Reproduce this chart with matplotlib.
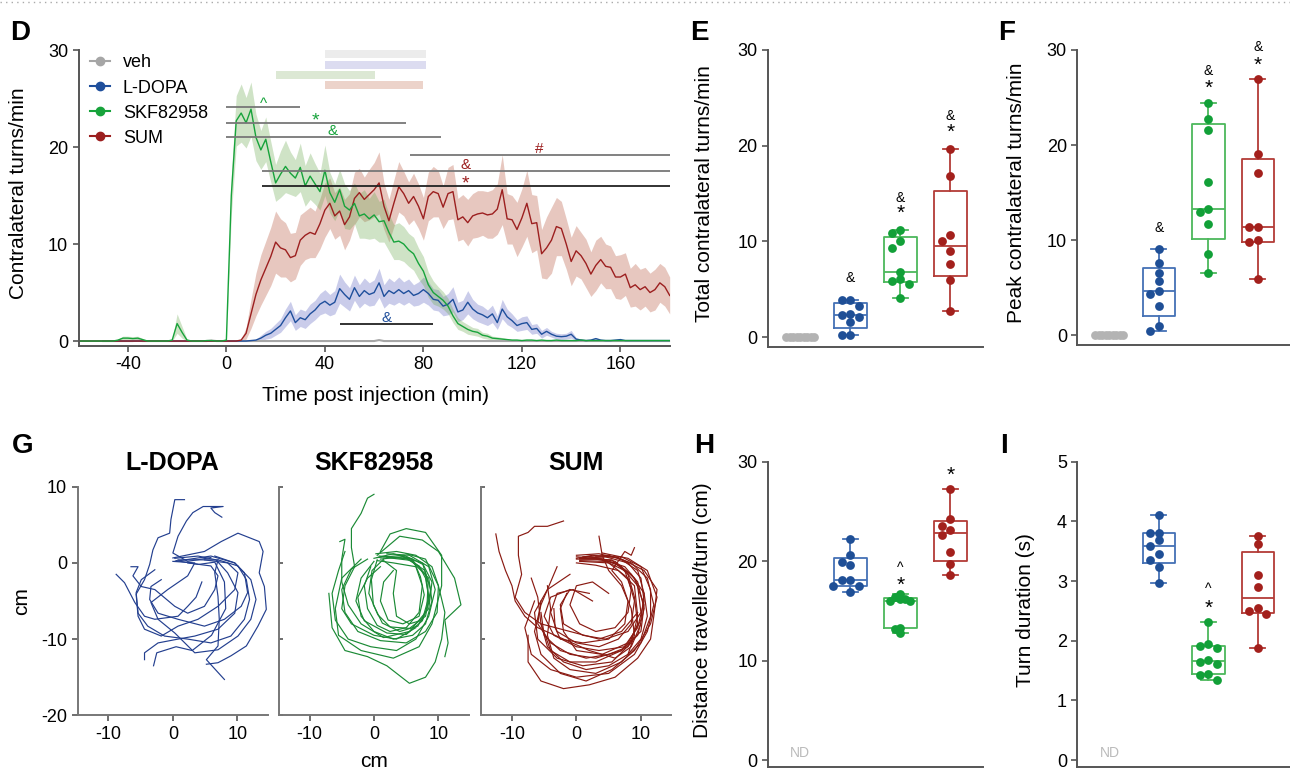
import numpy as np
import matplotlib
matplotlib.use('Agg')
import matplotlib.pyplot as plt
from matplotlib.lines import Line2D

plt.rcParams['font.family'] = ['Liberation Sans', 'DejaVu Sans']
plt.rcParams['axes.unicode_minus'] = False

nan = np.nan

# ---------------- panel D: time course (2-min bins, -60 .. 180 min) ----------------
time_min = np.arange(-60, 182, 2)

veh_turns = [nan, nan, nan, nan, nan, 0, 0, 0, 0, 0,
             0, 0, 0.05, 0, 0, 0, 0, 0, 0, 0,
             0, 0, 0, 0, 0, 0, 0, 0.05, 0, 0,
             0, 0, 0, 0, 0, 0, 0, 0, 0, 0,
             0, 0, 0, 0, 0, 0, 0, 0, 0, 0,
             0, 0, 0, 0, 0, 0, 0, 0, 0, 0,
             0, 0.1, 0, 0, 0, 0, 0, 0, 0, 0,
             0, 0, 0, 0, 0, 0, 0, 0, 0, 0,
             0, 0, 0, 0, 0, 0, 0, 0, 0, 0,
             0, 0, 0, 0, 0, 0, 0, 0, 0, 0,
             0, 0, 0, 0, 0, 0, 0, 0, 0, 0,
             0, 0, 0, 0, 0, 0, 0, 0, 0, 0,
             0]

ldopa_turns = [0] * 30 + [
    0, 0, 0, 0, 0, 0.05, 0.1, 0.3, 0.6, 0.8,
    1.2, 1.6, 2.4, 3.1, 1.9, 2.4, 2.2, 2.8, 3.2, 3.8,
    4.1, 3.7, 4.0, 5.4, 4.8, 4.3, 5.5, 4.6, 5.2, 4.8,
    5.0, 6.0, 4.6, 5.2, 4.9, 5.3, 4.9, 5.2, 4.7, 4.9,
    5.3, 4.9, 4.3, 4.2, 3.6, 3.8, 4.3, 3.0, 3.2, 4.0,
    3.3, 2.9, 2.7, 2.4, 2.8, 1.9, 3.3, 2.5, 2.1, 1.6,
    1.8, 1.9, 1.2, 1.3, 0.7, 1.0, 0.7, 0.5, 0.45, 0.5,
    0.7, 0.2, 0.1, 0.05, 0.1, 0.25, 0.1, 0.05, 0.05, 0.1,
    0.15, 0.05, 0.05, 0.05, 0.05, 0.05, 0.05, 0.05, 0.05, 0.05,
    0.05]
ldopa_sem = [0] * 30 + [
    0, 0, 0, 0, 0, 0.05, 0.1, 0.3, 0.4, 0.5,
    0.6, 0.7, 0.9, 1.0, 0.8, 0.9, 0.9, 1.0, 1.0, 1.1,
    1.2, 1.1, 1.2, 1.5, 1.3, 1.2, 1.3, 1.2, 1.3, 1.2,
    1.3, 1.5, 1.2, 1.3, 1.2, 1.3, 1.2, 1.2, 1.1, 1.2,
    1.3, 1.2, 1.1, 1.1, 1.0, 1.1, 1.3, 1.0, 1.0, 1.2,
    1.0, 0.9, 0.9, 0.8, 0.9, 0.7, 1.0, 0.8, 0.7, 0.6,
    0.7, 0.7, 0.5, 0.5, 0.4, 0.4, 0.3, 0.3, 0.3, 0.3,
    0.4, 0.15, 0.1, 0.05, 0.05, 0.1, 0.05, 0.05, 0.05, 0.05,
    0.05, 0.05, 0.05, 0.05, 0.05, 0.05, 0.05, 0.05, 0.05, 0.05,
    0.05]

skf_turns = [0, 0, 0, 0, 0, 0, 0, 0, 0.1, 0.3,
             0.3, 0.25, 0.3, 0.15, 0, 0, 0, 0, 0, 0.1,
             1.8, 0.9, 0.1, 0, 0, 0, 0.05, 0.05, 0, 0,
             0.1, 15.0, 22.7, 23.5, 22.5, 23.9, 21.0, 19.7, 20.8, 18.5,
             16.3, 17.2, 18.0, 17.3, 16.8, 17.9, 16.0, 17.0, 16.2, 15.4,
             17.6, 15.3, 14.3, 15.6, 13.9, 13.5, 14.2, 12.9, 13.1, 12.6,
             13.0, 12.3, 12.4, 11.2, 10.2, 10.3, 10.0, 9.4, 9.0, 8.0,
             7.2, 5.8, 5.0, 4.6, 4.2, 3.6, 2.6, 1.8, 1.5, 1.2,
             1.0, 0.9, 0.6, 0.5, 0.3, 0.25, 0.2, 0.15, 0.1, 0.1,
             0.05, 0.1, 0.1, 0.05, 0.1, 0.05, 0.05, 0.1, 0.05, 0.05,
             0.05, 0.05, 0.1, 0.05, 0.05, 0.05, 0.05, 0.05, 0.05, 0.05,
             0.05, 0.05, 0.05, 0.05, 0.05, 0.05, 0.05, 0.05, 0.05, 0.05,
             0.05]
skf_sem = [0, 0, 0, 0, 0, 0, 0, 0, 0.1, 0.2,
           0.2, 0.2, 0.2, 0.1, 0, 0, 0, 0, 0, 0.1,
           1.0, 0.6, 0.1, 0, 0, 0, 0.05, 0.05, 0, 0,
           0.1, 2.0, 2.6, 3.0, 2.6, 2.8, 2.4, 2.0, 2.3, 2.1,
           1.9, 2.4, 2.7, 2.2, 1.9, 2.5, 2.1, 2.4, 2.1, 1.9,
           2.6, 2.1, 1.9, 2.1, 2.3, 2.0, 2.1, 2.3, 2.5, 2.1,
           2.4, 2.1, 2.2, 1.9, 1.8, 1.9, 1.8, 1.7, 1.7, 1.6,
           1.5, 1.3, 1.2, 1.0, 0.9, 0.8, 0.7, 0.6, 0.5, 0.5,
           0.4, 0.4, 0.3, 0.3, 0.2, 0.2, 0.15, 0.1, 0.05, 0.05,
           0.05, 0.05, 0.05, 0.05, 0.05, 0.05, 0.05, 0.05, 0.05, 0.05,
           0.05, 0.05, 0.05, 0.05, 0.05, 0.05, 0.05, 0.05, 0.05, 0.05,
           0.05, 0.05, 0.05, 0.05, 0.05, 0.05, 0.05, 0.05, 0.05, 0.05,
           0.05]

sum_turns = [0] * 30 + [
    0, 0, 0, 0.1, 0.8, 2.8, 4.8, 6.3, 7.5, 8.7,
    10.2, 9.6, 9.4, 8.6, 8.8, 10.4, 10.9, 11.2, 11.0, 12.1,
    13.5, 14.2, 12.9, 13.4, 12.0, 12.8, 14.7, 15.3, 14.6, 15.1,
    15.6, 16.3, 13.9, 12.4, 14.2, 15.9, 15.2, 14.2, 14.9, 13.9,
    12.6, 14.9, 15.4, 15.2, 13.8, 15.2, 15.4, 12.5, 12.8, 12.2,
    12.9, 13.1, 13.2, 13.0, 13.1, 13.6, 15.6, 12.6, 12.5, 11.5,
    12.7, 14.2, 12.1, 12.2, 9.0, 9.6, 10.4, 11.8, 11.6, 10.0,
    8.2, 9.3, 8.8, 8.0, 6.9, 7.8, 8.4, 7.7, 7.6, 6.6,
    6.6, 6.9, 5.5, 5.8, 5.3, 5.6, 5.0, 5.3, 6.0, 5.6,
    4.7]
sum_sem = [0] * 30 + [
    0, 0, 0, 0.1, 0.6, 1.5, 2.2, 2.6, 2.8, 3.0,
    3.2, 3.0, 2.8, 2.5, 2.4, 2.6, 2.5, 2.6, 2.4, 2.6,
    2.8, 2.6, 2.4, 2.5, 2.6, 2.4, 2.7, 2.5, 2.3, 2.6,
    2.8, 3.2, 2.4, 2.2, 2.4, 2.6, 2.3, 2.2, 2.4, 2.3,
    2.2, 2.5, 2.6, 2.4, 2.2, 2.7, 2.8, 2.2, 2.3, 2.4,
    2.3, 2.4, 2.3, 2.4, 2.5, 2.6, 3.6, 2.6, 2.5, 2.8,
    3.0, 3.4, 3.0, 2.8, 2.5, 3.2, 3.4, 3.0, 2.8, 2.6,
    2.5, 2.6, 2.4, 2.5, 2.3, 2.6, 2.4, 2.3, 2.2, 2.2,
    2.3, 2.2, 2.0, 2.2, 2.1, 2.0, 2.0, 2.1, 2.0, 2.0,
    1.9]

group_names = ['veh', 'L-DOPA', 'SKF82958', 'SUM']

# shaded windows above the traces (start, end of window in min; y band)
window_start = [40, 40, 20, 40]
window_end = [81, 81, 60.5, 80]
window_low = [29.2, 28.05, 27.0, 25.95]
window_high = [30.0, 28.85, 27.8, 26.8]

# significance bars: (x0, x1, y, symbol, symbol x, symbol colour, bar colour)
sig_bars = [
    (0, 30, 24.15, '^', 15, '#17a33b', '#777777'),
    (0, 73, 22.5, '*', 36, '#17a33b', '#777777'),
    (0, 87, 21.0, '&', 43, '#17a33b', '#777777'),
    (74.5, 180, 19.2, '#', 127, '#9c1f1f', '#777777'),
    (14.3, 180, 17.5, '&', 97, '#9c1f1f', '#777777'),
    (14.3, 180, 16.0, '*', 97, '#9c1f1f', '#222222'),
    (46, 84, 1.75, '&', 65, '#1f4f9c', '#222222'),
]

# ---------------- panels E, F, H, I: per-animal values ----------------
total_turns = [
    [0, 0, 0, 0, 0, 0, 0, 0, 0],
    [3.9, 3.9, 3.3, 2.4, 2.3, 2.1, 1.6, 0.25, 0.25],
    [11.2, 10.9, 10.05, 9.3, 6.85, 6.05, 5.9, 5.6, 4.1],
    [19.65, 16.8, 10.7, 10.05, 9.0, 7.6, 6.0, 2.75],
]
peak_turns = [
    [0, 0, 0, 0, 0, 0, 0, 0, 0],
    [9.1, 7.6, 6.6, 5.75, 4.7, 4.35, 3.1, 0.95, 0.42],
    [24.4, 22.8, 21.6, 16.1, 13.3, 12.95, 11.7, 8.6, 6.55],
    [26.9, 19.05, 17.1, 11.45, 11.4, 10.05, 9.8, 5.9],
]
dist_per_turn = [
    None,
    [22.2, 20.6, 19.95, 19.6, 18.1, 18.1, 17.5, 17.5, 16.9],
    [16.7, 16.4, 16.2, 16.2, 16.0, 16.0, 13.3, 13.2, 12.75],
    [27.3, 24.2, 23.5, 23.1, 22.6, 20.9, 19.7, 18.6],
]
turn_duration = [
    None,
    [4.11, 3.81, 3.80, 3.68, 3.58, 3.46, 3.35, 3.24, 2.96],
    [2.31, 1.94, 1.91, 1.87, 1.68, 1.65, 1.61, 1.44, 1.42, 1.34],
    [3.75, 3.62, 3.10, 2.90, 2.54, 2.50, 2.45, 1.87],
]

# significance marks above groups: (group index, value, symbol)
marks_E = [(1, 6.3, '&'), (2, 14.7, '&'), (2, 13.5, '*'), (3, 23.2, '&'), (3, 22.0, '*')]
marks_F = [(1, 11.4, '&'), (2, 27.9, '&'), (2, 26.6, '*'), (3, 30.4, '&'), (3, 29.0, '*')]
marks_H = [(2, 19.7, '^'), (2, 18.2, '*'), (3, 29.2, '*')]
marks_I = [(2, 2.93, '^'), (2, 2.64, '*')]

# ---------------- panel G: example turn trajectories (cm) ----------------
ldopa_paths = [
    [(0, 0.65), (4.9, 1.5), (7.5, 2.8), (10.1, 3.9), (13.4, 2.8), (14.0, 1.5), (13.4, -1.3),
     (14.2, -3.1), (14.5, -6.1), (13.2, -8.3), (11.4, -10.9), (9.0, -12.2), (7.0, -13.1), (5.2, -13.3)],
    [(0.8, 0.4), (7.0, 0.4), (10.1, -0.4), (11.4, -2.2), (11.9, -4.8), (11.1, -7.4), (9.0, -9.6),
     (5.9, -10.5), (2.3, -10.0), (-1.3, -9.6), (-3.9, -8.3), (-5.4, -6.6), (-5.7, -3.9), (-4.9, -2.2), (-2.8, -0.9)],
    [(0.3, 0.2), (5.9, 0.9), (9.6, 0.0), (11.1, -1.3), (11.6, -3.9), (10.6, -5.7), (8.0, -7.4),
     (4.9, -8.3), (0.8, -7.4), (-2.3, -6.6), (-3.6, -4.8), (-3.4, -3.1), (-1.8, -2.2)],
    [(0.3, 0.6), (3.9, 0.9), (6.7, 0.4), (8.5, -1.3), (10.1, -3.9), (9.6, -6.6), (7.0, -8.7),
     (3.4, -9.6), (0.8, -10.0), (-2.3, -10.5), (-4.4, -11.8), (-4.4, -12.7)],
    [(7.0, 0.4), (6.5, -1.3), (7.0, -4.4), (7.2, -7.4), (7.0, -10.9), (5.2, -12.7), (8.0, -15.3)],
    [(-8.8, -1.5), (-7.5, -2.6), (-5.9, -5.2), (-4.4, -7.0), (-2.8, -7.4), (0.8, -7.0), (2.3, -5.7),
     (3.6, -4.5), (4.5, -2.5)],
    [(1.8, 8.3), (0.3, 8.3), (-0.3, 5.7), (-0.5, 3.9), (-2.3, 3.3), (-3.1, 1.7), (-3.6, -0.2),
     (-4.4, -2.2), (-5.7, -4.1), (-5.4, -7.0), (-4.4, -8.7), (-1.8, -9.6), (0.8, -8.3), (3.9, -7.4),
     (7.0, -5.7), (9.6, -3.5), (10.1, -1.3), (8.5, 0.0), (4.9, 0.4)],
    [(7.6, 6.0), (6.5, 6.6), (5.9, 7.2), (7.8, 7.4), (4.7, 7.4), (3.1, 6.6), (2.1, 5.5), (0.8, 3.5),
     (0.0, 1.3), (2.3, 0.2), (5.9, 0.7)],
    [(0.0, 0.2), (3.4, 0.0), (2.3, -1.7), (-0.8, -3.5), (-3.4, -5.2), (-2.3, -7.4), (0.3, -9.2),
     (3.4, -11.8), (7.0, -11.4), (10.1, -9.6), (12.1, -7.4), (12.9, -4.8), (12.1, -2.2), (9.6, 0.0), (6.5, 0.9)],
    [(-6.5, -0.5), (-5.4, -0.5), (-6.2, -1.7), (-4.9, -3.1), (-2.8, -3.5), (0.3, -5.7), (2.3, -6.6),
     (4.9, -5.7), (6.5, -3.5), (7.0, -1.7), (5.9, -0.4), (2.3, 0.0)],
    [(0.5, 0.3), (4.0, -0.2), (6.5, 0.1), (8.0, -2.5), (8.2, -6.0), (6.0, -9.5), (3.0, -11.5),
     (0.5, -11.0), (-2.5, -11.8), (-3.0, -13.5)],
]
skf_paths = [
    [(0.5, 0.7), (4.7, 1.0), (7.6, -0.2), (8.4, -2.6), (8.2, -6.1), (6.8, -8.3), (4.0, -9.0),
     (1.3, -7.9), (-0.1, -5.5), (-0.4, -2.2), (0.5, 0.4)],
    [(0.8, 0.9), (5.2, 0.6), (7.9, -1.0), (8.8, -3.5), (8.0, -7.0), (5.5, -8.6), (2.5, -8.4),
     (0.6, -6.8), (-0.8, -4.0), (-0.3, -1.0), (1.5, 0.5)],
    [(1.0, 0.5), (4.5, 0.8), (7.0, -0.4), (8.0, -2.0), (8.6, -5.0), (7.5, -7.6), (5.0, -9.4),
     (2.0, -9.2), (-1.5, -7.6), (-2.8, -5.0), (-2.0, -2.0), (0.0, 0.2)],
    [(0.3, 1.2), (3.5, 1.5), (6.5, 1.0), (9.0, -0.5), (10.0, -3.0), (9.8, -6.5), (8.0, -9.0),
     (5.0, -10.5), (1.0, -10.2), (-2.5, -9.0), (-4.5, -6.5), (-5.0, -3.5), (-3.5, -0.8), (-1.0, 0.5)],
    [(0.5, 1.0), (4.0, 3.5), (7.5, 3.0), (10.0, 1.5), (12.5, -2.0), (13.5, -5.5), (11.0, -7.5),
     (11.5, -10.5), (11.0, -12.3)],
    [(-7.0, -4.0), (-6.5, -8.5), (-4.5, -11.5), (-1.0, -12.3), (2.0, -13.5), (5.5, -15.8), (8.0, -15.0),
     (9.5, -13.0), (10.5, -10.0), (11.0, -6.5), (10.0, -3.0), (8.0, 0.5), (5.0, 1.2)],
    [(0.0, 9.0), (-1.0, 8.5), (-2.0, 6.5), (-3.5, 4.5), (-3.5, 2.0), (-3.0, -0.5), (-4.5, -3.0),
     (-5.0, -6.0), (-3.5, -8.0), (0.0, -9.5), (3.5, -10.0), (6.5, -8.5)],
    [(-5.3, 2.8), (-4.5, 3.1), (-5.0, 0.5), (-5.0, -2.5), (-4.0, -5.5), (-2.0, -8.0), (1.5, -9.8),
     (5.5, -9.0), (8.5, -6.0), (9.0, -2.5), (7.5, 0.0), (4.0, 1.0)],
    [(2.0, 0.7), (6.0, 0.3), (8.0, -1.5), (8.5, -4.5), (7.5, -7.5), (5.5, -8.0), (3.5, -7.0),
     (3.0, -4.0), (3.5, -1.0), (1.5, 0.3)],
    [(1.0, 1.5), (2.5, 3.8), (5.0, 4.5), (8.0, 4.0), (10.5, 1.0), (10.5, -3.0), (9.0, -8.0),
     (7.0, -11.0), (3.0, -12.5), (-2.0, -11.5), (-5.5, -9.5), (-6.0, -6.0), (-5.0, -2.0), (-2.0, 0.5)],
    [(0.5, 0.3), (3.0, 0.0), (6.5, -0.5), (7.5, -3.0), (7.0, -6.5), (5.0, -8.5), (2.5, -9.0),
     (0.5, -8.2), (-1.0, -6.0), (-1.5, -3.0), (-0.5, -0.5)],
    [(1.5, 0.8), (5.5, 0.5), (8.5, -2.0), (9.0, -5.0), (8.0, -8.0), (6.0, -9.5), (3.0, -10.0),
     (0.0, -9.0), (-2.0, -7.0), (-2.5, -4.5), (-1.0, -2.0), (1.0, -0.5)],
    [(0.0, 0.6), (3.0, 1.2), (6.0, 0.5), (7.2, -1.8), (7.8, -4.2), (7.0, -7.0), (4.5, -8.0),
     (2.2, -7.5), (1.0, -5.0), (1.5, -2.5), (3.0, -1.0)],
    [(-4.5, 1.5), (-5.5, -1.0), (-6.5, -4.0), (-6.0, -7.5), (-4.0, -10.0), (-0.5, -11.0), (3.5, -11.5),
     (6.5, -10.0), (8.5, -7.0), (9.5, -3.5), (8.5, -0.5), (5.5, 1.0), (2.0, 1.2)],
]
sum_paths = [
    [(0.0, 0.5), (3.0, 0.5), (6.0, 0.0), (8.5, -1.5), (10.5, -4.0), (11.0, -7.0), (10.0, -10.0),
     (8.0, -12.0), (5.0, -13.5), (1.5, -14.0), (-2.0, -13.0), (-4.5, -11.0), (-5.5, -8.0)],
    [(0.0, 0.8), (4.0, 0.5), (7.5, -0.5), (9.5, -2.5), (10.5, -6.0), (9.5, -9.5), (7.0, -11.5),
     (3.0, -12.5), (-1.0, -12.0), (-4.0, -10.5), (-6.0, -8.0), (-5.5, -5.0)],
    [(0.5, 0.2), (5.0, 0.0), (8.0, -2.0), (9.0, -5.0), (8.5, -8.0), (6.5, -10.0), (3.5, -11.0),
     (0.0, -10.5), (-3.0, -9.0), (-4.0, -6.5), (-3.0, -4.0), (-0.5, -3.5), (2.5, -5.0)],
    [(0.0, 1.0), (3.5, 1.2), (7.0, 0.5), (10.5, -1.0), (12.5, -3.5), (12.0, -7.0), (11.5, -10.0),
     (9.5, -12.5), (6.0, -15.0), (2.0, -16.0), (-2.0, -16.5), (-5.5, -15.5), (-7.5, -13.0), (-7.5, -9.5)],
    [(-12.5, 3.8), (-12.0, 1.5), (-11.0, -1.0), (-10.0, -3.0), (-9.5, -5.0), (-8.0, -7.0), (-6.0, -8.5),
     (-2.0, -10.0), (2.0, -11.5), (6.0, -12.5), (8.5, -11.0), (10.0, -8.0)],
    [(-2.0, 5.5), (-4.5, 4.8), (-6.5, 4.8), (-7.5, 4.0), (-9.0, 3.5), (-9.0, 1.0), (-8.5, -1.5),
     (-9.5, -4.5), (-8.0, -6.5), (-5.5, -8.0), (-1.0, -9.0), (3.5, -10.0), (7.0, -9.0), (9.5, -6.5)],
    [(0.5, 0.3), (4.5, 0.2), (7.5, -1.0), (8.5, -3.5), (8.0, -6.5), (6.0, -8.5), (3.0, -9.0),
     (0.5, -8.0), (-1.0, -5.5), (0.0, -3.0), (2.5, -2.5), (5.0, -4.0)],
    [(0.0, 0.0), (3.0, -0.3), (6.5, -1.0), (9.0, -3.0), (9.5, -7.0), (8.5, -10.5), (5.5, -13.0),
     (1.0, -13.5), (-3.0, -12.5), (-6.0, -10.0), (-6.5, -6.5), (-4.5, -3.5), (-1.0, -1.5)],
    [(1.0, 0.8), (5.0, 1.0), (8.5, 0.0), (11.0, -2.0), (12.0, -5.5), (11.0, -9.0), (9.0, -12.0),
     (5.0, -14.5), (0.0, -15.0), (-4.0, -14.0), (-7.0, -12.0), (-8.0, -8.5), (-6.5, -5.0)],
    [(0.5, 0.5), (4.0, 0.5), (7.0, -0.5), (9.5, -3.0), (10.0, -6.5), (8.0, -9.0), (4.5, -10.0),
     (1.0, -9.5), (-2.0, -8.0), (-2.5, -5.5), (-1.0, -3.5)],
    [(3.5, 3.5), (4.0, 1.0), (5.0, -1.0), (7.0, -3.0), (8.5, -6.0), (9.0, -9.5), (8.0, -12.0)],
    [(-4.5, -3.0), (-4.0, -6.0), (-4.5, -9.5), (-3.5, -12.5), (-1.0, -14.0), (3.0, -14.5), (7.0, -13.0),
     (10.0, -10.5), (11.5, -7.0), (11.5, -3.5), (10.0, -0.5), (7.0, 0.8), (3.0, 0.8)],
    [(0.5, 0.6), (5.5, 0.4), (8.0, -1.5), (9.0, -4.5), (9.5, -8.0), (8.0, -11.0), (5.0, -12.0),
     (1.5, -12.5), (-2.5, -11.5), (-5.0, -9.5), (-5.5, -6.5)],
    [(-7.0, -2.0), (-6.0, -4.5), (-5.5, -8.0), (-4.0, -11.5), (-1.0, -13.0), (3.0, -13.0), (7.0, -11.5),
     (9.5, -8.5), (10.5, -5.0), (10.0, -2.0), (8.0, 0.0), (4.5, 0.8), (1.0, 0.6)],
    [(2.0, 0.8), (6.0, 0.2), (9.0, -2.0), (10.5, -5.5), (10.0, -9.0), (7.5, -11.0), (3.5, -11.5),
     (0.0, -11.0), (-3.5, -9.5), (-5.0, -7.0), (-4.0, -4.5), (-1.0, -3.5), (2.0, -4.0)],
    [(-1.5, -4.0), (-2.5, -6.0), (-2.0, -9.0), (0.0, -11.5), (4.0, -12.0), (8.0, -10.5), (10.0, -7.5),
     (10.5, -4.0), (9.5, -1.0), (6.5, 0.7), (2.5, 1.0), (0.0, 0.6)],
    [(-3.0, -0.5), (-4.0, -2.5), (-5.5, -5.5), (-6.5, -9.0), (-5.5, -12.0), (-2.5, -14.5), (1.5, -15.5),
     (5.5, -14.0), (9.0, -11.5), (11.5, -8.0), (12.5, -4.5), (11.0, -1.0), (8.0, 0.6), (4.0, 1.3)],
    [(-3.5, -6.0), (-3.3, -8.5), (-2.5, -10.0), (1.0, -10.5), (5.0, -10.0), (7.5, -8.0), (8.0, -5.0),
     (7.0, -2.5), (5.5, -1.0), (7.5, 1.5), (8.5, 1.0), (9.0, 2.0)],
]

for arr in (veh_turns, ldopa_turns, ldopa_sem, skf_turns, skf_sem, sum_turns, sum_sem):
    assert len(arr) == len(time_min), len(arr)

# ---------------- styling ----------------
line_colors = ['#a6a6a6', '#1f4f9c', '#17a33b', '#9c1f1f']
band_colors = [None, '#5a62c0', '#6aa84f', '#b5533a']
dot_colors = ['#b3b3b3', '#1f4f96', '#12a038', '#a3201c']
box_colors = ['#b3b3b3', '#4471b5', '#4cb85c', '#b33c37']
path_colors = ['#233f8f', '#1b8a35', '#8a1a12']
window_colors = ['#ececec', '#dcdcf0', '#dce8d4', '#ecd3ca']
spine_color = '#555555'

W, H = 1290, 770
fig = plt.figure(figsize=(12.9, 7.7), dpi=100)


def add_axes(l, t, r, b):
    return fig.add_axes([l / W, 1 - b / H, (r - l) / W, (b - t) / H])


def style(ax):
    for s in ['top', 'right']:
        ax.spines[s].set_visible(False)
    for s in ['left', 'bottom']:
        ax.spines[s].set_color(spine_color)
        ax.spines[s].set_linewidth(1.4)
    ax.tick_params(colors=spine_color, labelcolor='black', labelsize=13, length=4, width=1.2)


def mark(ax, x, y, s, color, size):
    # glyphs like * and ^ sit high in the text box, shift them down a bit
    drop = {'*': 0.28, '^': 0.3}.get(s, 0.08) * size
    ax.annotate(s, (x, y), xytext=(0, -drop), textcoords='offset points', ha='center',
                va='center', color=color, fontsize=size, annotation_clip=False)


def swarm(ax, vals, gap_px, dia_px):
    pos = ax.get_position()
    x0, x1 = ax.get_xlim()
    y0, y1 = ax.get_ylim()
    xs = pos.width * W / (x1 - x0)
    ys = pos.height * H / (y1 - y0)
    placed, out = [], []
    for v in vals:
        y = v * ys
        for k in [0, -1, 1, -2, 2, -3, 3, -4, 4, -5, 5]:
            xo = k * gap_px
            if all(np.hypot(xo - px, y - py) >= dia_px * 0.95 for px, py in placed):
                break
        placed.append((xo, y))
        out.append(xo / xs)
    return np.array(out)


def box_panel(ax, groups, marks, ylim, yticks, ylabel, label_x, tight=()):
    ax.set_xlim(-0.65, 3.65)
    ax.set_ylim(*ylim)
    style(ax)
    ax.set_yticks(yticks)
    for i, vals in enumerate(groups):
        if vals is None:
            continue
        v = np.array(vals, dtype=float)
        q1, med, q3 = np.percentile(v, [25, 50, 75], method='weibull')
        stats = [dict(med=med, q1=q1, q3=q3, whislo=v.min(), whishi=v.max(), fliers=[])]
        lp = dict(color=box_colors[i], linewidth=1.3)
        ax.bxp(stats, positions=[i], widths=0.66, showfliers=False, boxprops=lp,
               whiskerprops=lp, capprops=lp, medianprops=lp, capwidths=0.3, manage_ticks=False)
        if i == 0:
            offs = swarm(ax, v, 3.5, 3.5)
        elif i in tight:
            offs = swarm(ax, v, 5.0, 5.0)
        else:
            offs = swarm(ax, v, 8.6, 8.0)
        ax.scatter(i + offs, v, s=40, color=dot_colors[i], lw=0, zorder=3, clip_on=False)
    ax.set_xticks([])
    for gi, val, s in marks:
        mark(ax, gi, val, s, 'black', 15 if s == '*' else 10)
    ax.set_ylabel(ylabel, fontsize=15)
    ax.yaxis.set_label_coords(label_x, 0.515)


# ---------------- D ----------------
axD = add_axes(78.6, 50, 669.7, 345.7)
style(axD)
axD.set_xlim(-60, 180)
axD.set_ylim(-0.48, 30)
axD.set_xticks([-40, 0, 40, 80, 120, 160])
axD.set_yticks([0, 10, 20, 30])

for x0, x1, lo, hi, c in zip(window_start, window_end, window_low, window_high, window_colors):
    axD.fill_between([x0, x1], lo, hi, color=c, lw=0)

series = [veh_turns, ldopa_turns, skf_turns, sum_turns]
sems = [None, ldopa_sem, skf_sem, sum_sem]
for i in [1, 3, 2]:
    y = np.array(series[i], dtype=float)
    e = np.array(sems[i], dtype=float)
    axD.fill_between(time_min, y - e, y + e, color=band_colors[i], alpha=0.32, lw=0)
axD.plot(time_min, veh_turns, color=line_colors[0], lw=1.5)
for i in [1, 3, 2]:
    axD.plot(time_min, series[i], color=line_colors[i], lw=1.0)

for x0, x1, y, s, sx, sc, bc in sig_bars:
    axD.plot([x0, x1], [y, y], color=bc, lw=1.3, solid_capstyle='butt')
    mark(axD, sx, y + 0.75, s, sc, 14 if s == '*' else 11)

handles = [Line2D([0], [0], color=c, marker='o', markersize=6, lw=1.5) for c in line_colors]
axD.legend(handles, group_names, loc='upper left', bbox_to_anchor=(0.02, 0.985), frameon=False,
           fontsize=13, handlelength=1.1, handletextpad=0.7, labelspacing=0.45, borderaxespad=0,
           borderpad=0)
axD.set_xlabel('Time post injection (min)', fontsize=15)
axD.xaxis.set_label_coords(0.503, -0.135)
axD.set_ylabel('Contralateral turns/min', fontsize=15)
axD.yaxis.set_label_coords(-0.085, 0.516)

# ---------------- E, F ----------------
axE = add_axes(767.7, 50, 982.8, 346.7)
box_panel(axE, total_turns, marks_E, (-1, 30), [0, 10, 20, 30], 'Total contralateral turns/min', -0.25)
axF = add_axes(1077.3, 50, 1290, 345)
box_panel(axF, peak_turns, marks_F, (-1, 30), [0, 10, 20, 30], 'Peak contralateral turns/min', -0.24)

# ---------------- H, I ----------------
axH = add_axes(767.7, 461.7, 982.8, 767)
box_panel(axH, dist_per_turn, marks_H, (-0.7, 30), [0, 10, 20, 30], 'Distance travelled/turn (cm)', -0.26,
          tight=(2,))
axH.text(0, 0.7, 'ND', color='#bbbbbb', fontsize=10, ha='center', va='center')
axI = add_axes(1077.3, 461.7, 1290, 767)
box_panel(axI, turn_duration, marks_I, (-0.117, 5), [0, 1, 2, 3, 4, 5], 'Turn duration (s)', -0.2)
axI.text(0, 0.12, 'ND', color='#bbbbbb', fontsize=10, ha='center', va='center')

# ---------------- G ----------------
g_rects = [(77.5, 267.6), (278.6, 468.7), (481.0, 671.2)]
g_paths = [ldopa_paths, skf_paths, sum_paths]
g_titles = ['L-DOPA', 'SKF82958', 'SUM']
for k, ((l, r), paths, title) in enumerate(zip(g_rects, g_paths, g_titles)):
    ax = add_axes(l, 486.7, r, 715.3)
    style(ax)
    ax.spines['left'].set_color('#777777')
    ax.spines['bottom'].set_color('#777777')
    for p in paths:
        xs, ys = zip(*p)
        ax.plot(xs, ys, color=path_colors[k], lw=0.85)
    ax.set_xlim(-14.8, 14.7)
    ax.set_ylim(-20, 10)
    ax.set_xticks([-10, 0, 10])
    ax.set_yticks([10, 0, -10, -20])
    ax.set_title(title, fontsize=18, fontweight='bold', pad=12)
    if k == 0:
        ax.set_ylabel('cm', fontsize=15)
        ax.yaxis.set_label_coords(-0.245, 0.5)
    else:
        ax.tick_params(axis='y', labelleft=False, direction='in', length=3)
    if k == 1:
        ax.set_xlabel('cm', fontsize=15)
        ax.xaxis.set_label_coords(0.5, -0.16)

# panel letters
for letter, x, y in [('D', 10, 40), ('E', 690, 40), ('F', 998, 40),
                     ('G', 12, 453), ('H', 694, 453), ('I', 1000, 453)]:
    fig.text(x / W, 1 - y / H, letter, fontsize=20, fontweight='bold', ha='left', va='baseline')

# dotted separator along the top edge
fig.add_artist(Line2D([0, 1], [0.997, 0.997], transform=fig.transFigure, color='#aaaaaa',
                      lw=1.0, ls=(0, (1, 3))))

fig.savefig('out.png', dpi=100)
